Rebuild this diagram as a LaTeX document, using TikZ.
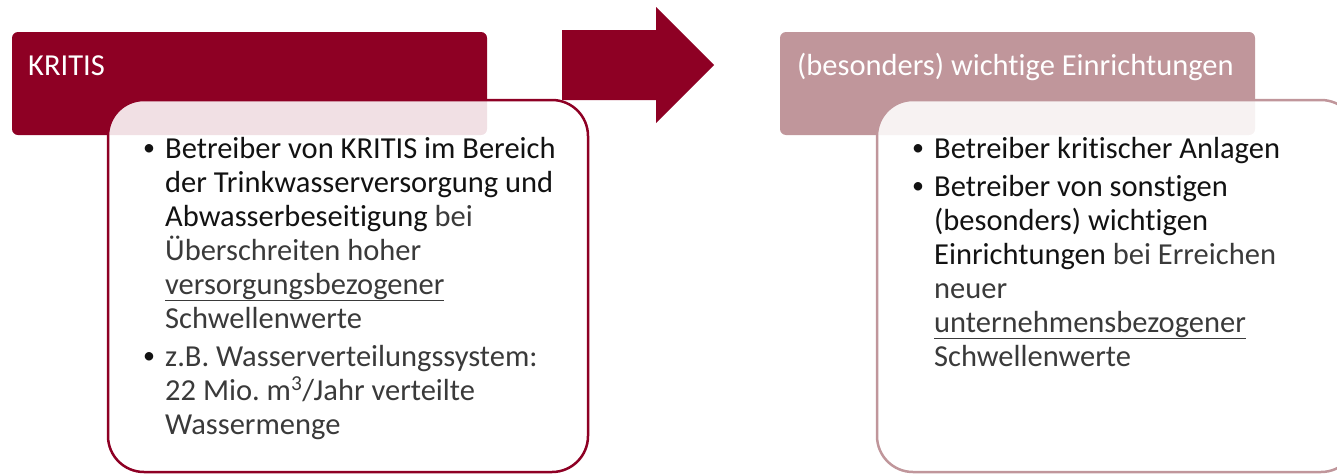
\documentclass[tikz,border=0pt]{standalone}
\usepackage{fontspec}
\setmainfont{Carlito}[Ligatures=NoCommon]
\frenchspacing
\definecolor{kritisrot}{RGB}{142,0,36}
\definecolor{altrosa}{RGB}{192,150,155}
\definecolor{textdunkel}{RGB}{18,18,18}
\definecolor{textgrau}{RGB}{58,58,58}
\begin{document}
\begin{tikzpicture}[x=1pt, y=-1pt,
    kopf/.style={rectangle, rounded corners=6pt, minimum width=475pt, minimum height=103pt, inner sep=0pt, outer sep=0pt, anchor=north west},
    kasten/.style={rectangle, rounded corners=36pt, fill=white, fill opacity=0.88, line width=2.5pt, minimum width=480pt, minimum height=372pt, inner sep=0pt, outer sep=0pt, anchor=north west},
    titel/.style={anchor=base west, inner sep=0pt, text=white, font=\fontsize{30.5}{34}\selectfont},
    zeile/.style={anchor=base west, inner sep=0pt, text=textgrau, font=\fontsize{30.5}{34}\selectfont},
    punkt/.style={anchor=base west, inner sep=0pt, text=textdunkel, font=\fontsize{24}{28}\selectfont}]
        \useasboundingbox (0,0) rectangle (1337,474);
        \clip (0,0) rectangle (1337,474);

        % Kopfzeilen
        \node[kopf, fill=kritisrot] (K) at (12,32) {};
        \node[kopf, fill=altrosa] (E) at (780,32) {};
        \node[titel] (KT) at (28,75) {KRITIS};
        \node[titel] (ET) at (797,75) {(besonders) wichtige Einrichtungen};

        % Pfeil
        \fill[kritisrot] (562,30) -- (656,30) -- (656,7) -- (714,65) -- (656,123) -- (656,100) -- (562,100) -- cycle;

        % Kaesten
        \node[kasten, draw=kritisrot] (KB) at (108,100) {};
        \node[kasten, draw=altrosa] (EB) at (877,100) {};

        % Text KRITIS
        \node[punkt] (KP1) at (143,155) {•};
        \node[zeile, text=textdunkel] (KL1) at (165,158) {Betreiber von KRITIS im Bereich};
        \node[zeile, text=textdunkel] (KL2) at (165,192) {der Trinkwasserversorgung und};
        \node[zeile] (KL3) at (165,226) {{\color{textdunkel}Abwasserbeseitigung} bei};
        \node[zeile] (KL4) at (165,260) {Überschreiten hoher};
        \node[zeile] (KL5) at (165,294) {\underline{versorgungsbezogener}};
        \node[zeile] (KL6) at (165,328) {Schwellenwerte};
        \node[punkt] (KP2) at (143,363) {•};
        \node[zeile] (KL7) at (165,366) {z.B. Wasserverteilungssystem:};
        \node[zeile] (KL8) at (165,400) {22 Mio. m\textsuperscript{3}/Jahr verteilte};
        \node[zeile] (KL9) at (165,434) {Wassermenge};

        % Text Einrichtungen
        \node[punkt] (EP1) at (912,155) {•};
        \node[zeile, text=textdunkel] (EL1) at (934,158) {Betreiber kritischer Anlagen};
        \node[punkt] (EP2) at (912,193) {•};
        \node[zeile, text=textdunkel] (EL2) at (934,196) {Betreiber von sonstigen};
        \node[zeile, text=textdunkel] (EL3) at (934,230) {(besonders) wichtigen};
        \node[zeile] (EL4) at (934,264) {{\color{textdunkel}Einrichtungen} bei Erreichen};
        \node[zeile] (EL5) at (934,298) {neuer};
        \node[zeile] (EL6) at (934,332) {\underline{unternehmensbezogener}};
        \node[zeile] (EL7) at (934,366) {Schwellenwerte};

    \end{tikzpicture}
\end{document}
